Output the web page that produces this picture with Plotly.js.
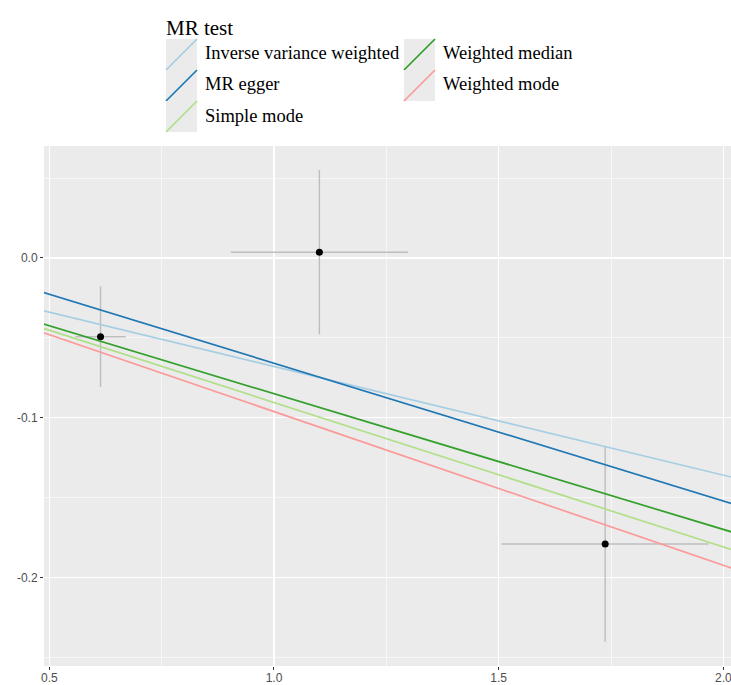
<!DOCTYPE html>
<html>
<head>
<meta charset="utf-8">
<script src="https://cdn.plot.ly/plotly-3.0.1.min.js"></script>
<style>html,body{margin:0;padding:0;background:#fff;}#chart{width:731px;height:685px;}</style>
</head>
<body>
<div id="chart"></div>
<script>
// ---- data ----
var snpBeta_exposure = [0.614, 1.101, 1.737];
var snpSe_exposure   = [0.056, 0.197, 0.230];
var snpBeta_outcome  = [-0.0493, 0.0036, -0.1791];
var snpSe_outcome    = [0.0315, 0.0514, 0.0613];

var methods    = ["Inverse variance weighted", "MR egger", "Simple mode", "Weighted median", "Weighted mode"];
var slopes     = [-0.0680, -0.0863, -0.0905, -0.0850, -0.0962];
var intercepts = [0, 0.0204, 0, 0, 0];
var colors     = ["#A6CEE3", "#1F78B4", "#B2DF8A", "#33A02C", "#FB9A99"];

var xTicks = [0.5, 1.0, 1.5, 2.0];
var xTickText = ["0.5", "1.0", "1.5", "2.0"];
var yTicks = [-0.2, -0.1, 0.0];
var yTickText = ["-0.2", "-0.1", "0.0"];

// ---- layout geometry ----
var W = 731, H = 685;
var L = 44, R = 0, T = 146, B = 19;
var xRange = [0.4882, 2.017];
var yRange = [-0.2555, 0.0701];
var pw = W - L - R, ph = H - T - B;
function px(x){ return (x - L) / pw; }
function py(y){ return (H - B - y) / ph; }

var traces = [];
// error bars + points
traces.push({
  type: "scatter", mode: "markers",
  x: snpBeta_exposure, y: snpBeta_outcome,
  error_x: {type: "data", array: snpSe_exposure, visible: true, color: "#BEBEBE", thickness: 1.4, width: 0},
  error_y: {type: "data", array: snpSe_outcome, visible: true, color: "#BEBEBE", thickness: 1.4, width: 0},
  marker: {color: "#000000", size: 7},
  showlegend: false, hoverinfo: "skip", cliponaxis: true
});
// regression lines
for (var i = 0; i < methods.length; i++) {
  var xs = [xRange[0] - 0.05, xRange[1] + 0.05];
  traces.push({
    type: "scatter", mode: "lines", name: methods[i],
    x: xs, y: xs.map(function(v){ return intercepts[i] + slopes[i] * v; }),
    line: {color: colors[i], width: 1.7},
    showlegend: false, hoverinfo: "skip"
  });
}

// ---- custom legend (ggplot-style diagonal keys) ----
var shapes = [], annotations = [];
var serif = "Liberation Serif, Times New Roman, serif";
annotations.push({
  xref: "paper", yref: "paper", x: px(164), y: py(28), xanchor: "left", yanchor: "middle",
  text: "MR test", showarrow: false, font: {family: serif, size: 21, color: "#000"}
});
var keyPos = [[166, 39], [166, 70], [166, 101], [404, 39], [404, 70]];
var keySize = 31;
for (var k = 0; k < methods.length; k++) {
  var kx = keyPos[k][0], ky = keyPos[k][1];
  shapes.push({type: "rect", xref: "paper", yref: "paper",
    x0: px(kx), x1: px(kx + keySize), y0: py(ky + keySize), y1: py(ky),
    fillcolor: "#EBEBEB", line: {width: 0}, layer: "above"});
  shapes.push({type: "line", xref: "paper", yref: "paper",
    x0: px(kx), y0: py(ky + keySize), x1: px(kx + keySize), y1: py(ky),
    line: {color: colors[k], width: 1.7}, layer: "above"});
  annotations.push({
    xref: "paper", yref: "paper", x: px(kx + keySize + 6), y: py(ky + keySize / 2 - 1),
    xanchor: "left", yanchor: "middle", text: methods[k], showarrow: false,
    font: {family: serif, size: 18.5, color: "#000"}
  });
}

var axisCommon = {
  showline: false, zeroline: false, ticks: "outside", ticklen: 3, tickwidth: 1, tickcolor: "#333333",
  showgrid: true, gridcolor: "#FFFFFF", gridwidth: 1.3, ticklabeloverflow: "allow",
  tickfont: {family: "Liberation Sans, Arial, sans-serif", size: 12, color: "#4D4D4D"}
};

var layout = {
  width: W, height: H,
  margin: {l: L, r: R, t: T, b: B, pad: 0},
  paper_bgcolor: "#FFFFFF", plot_bgcolor: "#EBEBEB",
  showlegend: false,
  xaxis: Object.assign({}, axisCommon, {
    range: xRange, tickmode: "array", tickvals: xTicks, ticktext: xTickText,
    ticklabelstandoff: -2,
    minor: {tickmode: "array", tickvals: [0.75, 1.25, 1.75], showgrid: true, gridcolor: "#FFFFFF", gridwidth: 0.6, ticks: ""}
  }),
  yaxis: Object.assign({}, axisCommon, {
    range: yRange, tickmode: "array", tickvals: yTicks, ticktext: yTickText,
    minor: {tickmode: "array", tickvals: [-0.25, -0.15, -0.05, 0.05], showgrid: true, gridcolor: "#FFFFFF", gridwidth: 0.6, ticks: ""}
  }),
  shapes: shapes, annotations: annotations
};

Plotly.newPlot("chart", traces, layout, {staticPlot: true, displayModeBar: false});
</script>
</body>
</html>
